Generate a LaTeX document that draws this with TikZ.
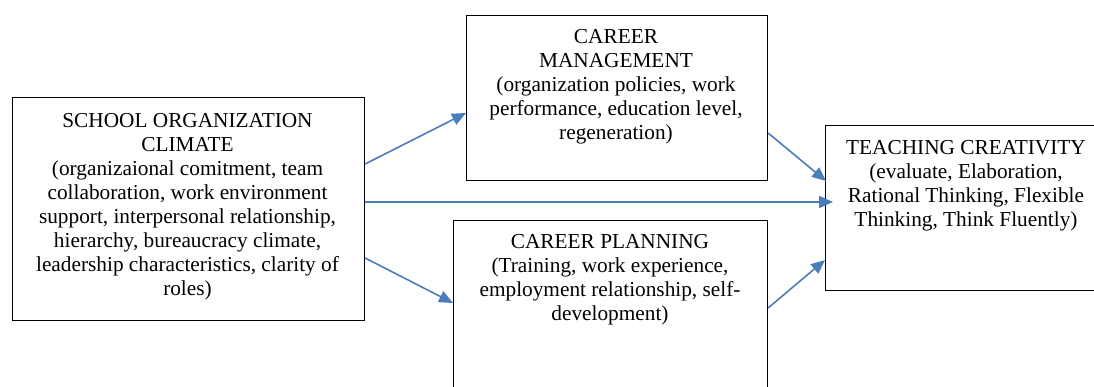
\documentclass[tikz,border=0pt]{standalone}
\usepackage{fontspec}
\setmainfont{Liberation Serif}
\usetikzlibrary{arrows.meta,calc}
\definecolor{arrowblue}{HTML}{4A7EBB}
\begin{document}
\begin{tikzpicture}[x=1pt,y=-1pt,
  box/.style={draw=black, line width=1.1pt, rectangle, inner sep=0pt, anchor=north west},
  txt/.style={anchor=north, align=center, inner sep=0pt,
    font=\rmfamily\fontsize{21.3}{24}\selectfont},
  link/.style={draw=arrowblue, line width=1.6pt,
    -{Triangle[length=14pt,width=12pt]}}]
\useasboundingbox (0,0) rectangle (1094,387);

% boxes
\node[box, minimum width=352pt, minimum height=223pt] (school) at (12,97) {};
\node[box, minimum width=301pt, minimum height=165pt] (manage) at (466,15) {};
\node[box, minimum width=314pt, minimum height=170pt] (plan)   at (453,220) {};
\node[box, minimum width=285pt, minimum height=165pt] (teach)  at (825,125) {};

% box texts
\node[txt] (schooltxt) at (187.5,113) {SCHOOL ORGANIZATION\\CLIMATE\\(organizaional comitment, team\\collaboration, work environment\\support, interpersonal relationship,\\hierarchy, bureaucracy climate,\\leadership characteristics, clarity of\\roles)};
\node[txt] (managetxt) at (616,29) {CAREER\\MANAGEMENT\\(organization policies, work\\performance, education level,\\regeneration)};
\node[txt] (plantxt) at (610,234) {CAREER PLANNING\\(Training, work experience,\\employment relationship, self-\\development)};
\node[txt] (teachtxt) at (966,140) {TEACHING CREATIVITY\\(evaluate, Elaboration,\\Rational Thinking, Flexible\\Thinking, Think Fluently)};

% connectors
\draw[link] ($(school.north east)+(0,67)$) -- ($(manage.north west)+(0,98)$);
\draw[link] ($(school.north east)+(0,105)$) -- ($(teach.north west)+(8,77)$);
\draw[link] ($(school.north east)+(0,161)$) -- ($(plan.north west)+(0,83)$);
\draw[link] ($(manage.north east)+(0,118)$) -- ($(teach.north west)+(1,56)$);
\draw[link] ($(plan.north east)+(0,88)$) -- ($(teach.north west)+(0,135)$);
\end{tikzpicture}
\end{document}
